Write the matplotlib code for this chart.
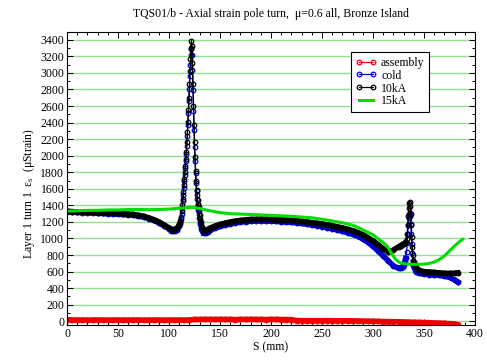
import numpy as np
import matplotlib
matplotlib.use("Agg")
import matplotlib.pyplot as plt
from matplotlib.ticker import MultipleLocator

plt.rcParams['font.family'] = ['Liberation Serif', 'DejaVu Serif']
plt.rcParams['mathtext.fontset'] = 'custom'
plt.rcParams['mathtext.rm'] = 'Liberation Serif'
plt.rcParams['mathtext.it'] = 'Liberation Serif:italic'

# position along the pole turn (mm), shared by the cold and 10kA gauges
s_main = [0, 5, 10, 15, 20, 25, 30, 35, 40, 45, 50, 55, 60, 65, 70, 75, 80, 85, 90, 95, 100,
          102, 104, 106, 108, 110, 111,
          112, 112.5, 113, 113.5, 114, 114.5, 115, 115.5, 116, 116.5, 117, 117.5, 118, 118.5,
          119, 119.5, 120, 120.5, 121, 121.5, 122, 122.5, 123, 123.5, 124, 124.5, 125, 125.5,
          126, 126.5, 127, 127.5, 128, 128.5, 129, 129.5, 130, 130.5, 131, 131.5, 132,
          133, 134, 136, 138, 140,
          145, 150, 155, 160, 165, 170, 175, 180, 185, 190, 195, 200, 205, 210, 215, 220, 225,
          230, 235, 240, 245, 250, 255, 260, 265, 270, 275, 280, 285, 290, 295, 300, 305, 310,
          315, 320, 325,
          327, 329, 330, 331, 332,
          333, 333.5, 334, 334.5, 335, 335.5, 336, 336.5, 337, 337.5, 338, 338.5, 339,
          340, 342, 345, 350, 355, 360, 365, 370, 375, 380, 383]

cold = [1320, 1318, 1315, 1312, 1310, 1308, 1305, 1302, 1300, 1297, 1294, 1290, 1285, 1280,
        1270, 1258, 1240, 1218, 1190, 1155, 1115,
        1095, 1088, 1090, 1105, 1145, 1180,
        1240, 1300, 1370, 1450, 1530, 1610, 1690, 1770, 1850, 1930, 2020, 2120, 2240, 2370,
        2510, 2660, 2810, 2960, 3100, 3220, 3290, 3220, 3030, 2790, 2540, 2310, 2110, 1940,
        1790, 1670, 1570, 1480, 1400, 1340, 1290, 1245, 1205, 1170, 1140, 1115, 1095,
        1075, 1065, 1068, 1080, 1098,
        1125, 1145, 1162, 1177, 1188, 1197, 1204, 1209, 1212, 1213, 1212, 1210, 1207, 1203,
        1199, 1194, 1188, 1181, 1173, 1164, 1154, 1143, 1131, 1118, 1104, 1088, 1070, 1050,
        1025, 995, 955, 905, 850, 790, 730, 670, 640,
        640, 660, 680, 710, 760,
        840, 940, 1050, 1160, 1250, 1300, 1310, 1270, 1180, 1060, 930, 820, 730,
        660, 600, 580, 570, 565, 560, 555, 545, 530, 500, 475]

ka10 = [1330, 1325, 1320, 1318, 1315, 1315, 1312, 1310, 1308, 1305, 1303, 1300, 1295, 1290,
        1280, 1268, 1250, 1228, 1200, 1165, 1130,
        1115, 1108, 1110, 1125, 1165, 1200,
        1260, 1330, 1400, 1480, 1560, 1640, 1720, 1800, 1880, 1960, 2050, 2160, 2280, 2410,
        2550, 2700, 2860, 3020, 3170, 3300, 3390, 3320, 3120, 2860, 2600, 2370, 2160, 1980,
        1820, 1690, 1580, 1520, 1470, 1420, 1380, 1330, 1285, 1240, 1200, 1165, 1140,
        1110, 1095, 1095, 1110, 1125,
        1150, 1170, 1185, 1200, 1210, 1218, 1225, 1230, 1232, 1233, 1232, 1230, 1228, 1225,
        1222, 1218, 1213, 1208, 1200, 1193, 1185, 1175, 1165, 1155, 1142, 1128, 1112, 1095,
        1072, 1045, 1010, 970, 925, 875, 840, 860, 900,
        915, 930, 935, 945, 955,
        990, 1060, 1160, 1270, 1370, 1430, 1440, 1390, 1290, 1160, 1020, 900, 800,
        720, 650, 615, 600, 595, 590, 585, 580, 578, 580, 585]

s_asm = [0, 5, 10, 15, 20, 25, 30, 35, 40, 45, 50, 55, 60, 65, 70, 75, 80, 85, 90, 95, 100,
         105, 110, 115, 120,
         125, 130, 135, 140, 145, 150, 155, 160, 165, 170, 175, 180, 185, 190, 195, 200, 205,
         210, 215, 220,
         225, 230, 235, 240, 245, 250, 255, 260, 265, 270, 275, 280, 285,
         290, 295, 300, 305, 310, 315, 320, 325, 330,
         335, 340, 345, 350, 355, 360, 365, 370, 375, 380, 383]
assembly = [18, 16, 15, 15, 14, 15, 16, 15, 14, 14, 15, 15, 14, 15, 15, 14, 14, 15, 15, 14, 14,
            15, 15, 14, 16,
            22, 22, 23, 22, 22, 23, 22, 22, 21, 22, 22, 23, 22, 22, 21, 22, 22, 21, 21, 20,
            8, 8, 7, 8, 7, 7, 8, 7, 6, 6, 5, 5, 4,
            2, 1, 0, -1, -3, -4, -5, -6, -8,
            -10, -12, -14, -15, -17, -20, -22, -25, -28, -32, -42]

s_15 = [0, 10, 20, 30, 40, 50, 60, 70, 80, 90, 100, 110, 120, 125, 130, 140, 150, 160, 180,
        200, 220, 240, 250, 260, 270, 280, 285, 290, 300, 305, 310, 314, 318, 322, 326, 330,
        335, 340, 345, 350, 355, 360, 365, 370, 375, 380, 385, 388]
ka15 = [1330, 1335, 1340, 1340, 1345, 1345, 1350, 1350, 1348, 1350, 1355, 1365, 1375, 1375,
        1362, 1335, 1312, 1300, 1290, 1280, 1268, 1250, 1232, 1212, 1190, 1160, 1135, 1105,
        1045, 995, 950, 905, 820, 750, 710, 695, 690, 688, 688, 690, 698, 715, 745, 790, 850,
        910, 965, 990]

s_arr = np.array(s_main)
# the dense marker runs merge into a solid band away from the two peaks
off_peak = ~(((s_arr > 111) & (s_arr < 134)) | ((s_arr > 332.5) & (s_arr < 339.5)))

fig = plt.figure(figsize=(4.87, 3.61), dpi=100)
ax = fig.add_axes([0.1376, 0.0997, 0.8378, 0.8108])

ax.grid(axis='y', color='#8fe08f', linewidth=1.0, zorder=0)
ax.set_axisbelow(True)

mk = dict(marker='o', markersize=3.3, markerfacecolor='none', markeredgewidth=0.9,
          linewidth=0.9)
ax.plot(s_asm, assembly, color='#ee0000', linewidth=4.0, zorder=2)
ax.plot(s_asm, assembly, color='#ee0000', label='assembly', zorder=2, **mk)
ax.plot(s_arr, np.where(off_peak, cold, np.nan), color='#0000cc', linewidth=4.0, zorder=2)
ax.plot(s_main, cold, color='#0000cc', label='cold', zorder=2, **mk)
ax.plot(s_arr, np.where(off_peak, ka10, np.nan), color='black', linewidth=4.0, zorder=2)
ax.plot(s_main, ka10, color='black', label='10kA', zorder=2, **mk)
ax.plot(s_15, ka15, color='#00dd00', linewidth=2.2, label='15kA', zorder=3)

ax.set_xlim(0, 400)
ax.set_ylim(-45, 3490)
ax.xaxis.set_major_locator(MultipleLocator(50))
ax.xaxis.set_minor_locator(MultipleLocator(10))
ax.yaxis.set_major_locator(MultipleLocator(200))
ax.yaxis.set_minor_locator(MultipleLocator(100))
ax.set_yticks(np.arange(0, 3401, 200))
ax.tick_params(which='both', direction='in', top=True, right=True, labelsize=8.5,
               width=0.7, pad=2)
ax.tick_params(which='major', length=4)
ax.tick_params(which='minor', length=2.5)
for sp in ax.spines.values():
    sp.set_linewidth(0.8)
    sp.set_zorder(4)

ax.set_title('TQS01/b - Axial strain pole turn,  \u03bc=0.6 all, Bronze Island',
             fontsize=8.5, pad=11)
ax.set_xlabel('S (mm)', fontsize=8.5, labelpad=1)
ax.set_ylabel('Layer 1 turn 1  \u03b5$_\\mathregular{s}$  (\u03bcStrain)', fontsize=8.5)
ax.yaxis.set_label_coords(-0.074, 0.45)

leg = ax.legend(loc='upper left', bbox_to_anchor=(0.696, 0.933), borderaxespad=0,
                fontsize=8.5, numpoints=2, handlelength=1.8, handletextpad=0.35,
                labelspacing=0.08, borderpad=0.4, fancybox=False, framealpha=1,
                edgecolor='black')
leg.get_frame().set_linewidth(0.8)

fig.savefig('out.png', dpi=100)
